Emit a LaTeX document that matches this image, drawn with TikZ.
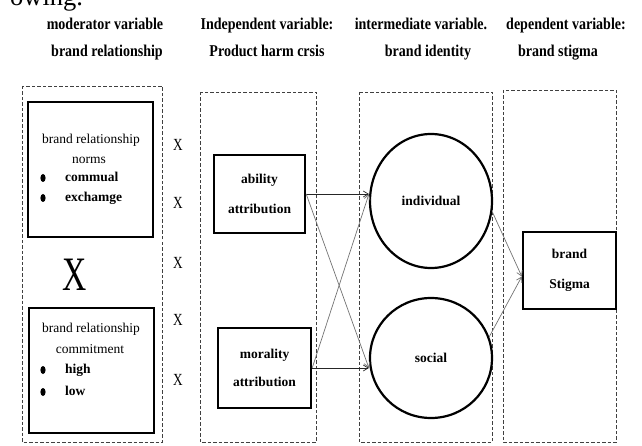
\documentclass[tikz,border=0pt]{standalone}
\usepackage{fontspec}
\setmainfont{Liberation Serif}
\newfontfamily\condserif{Liberation Serif}[FakeStretch=0.85]
\usetikzlibrary{arrows.meta,shapes.geometric}
\begin{document}
\begin{tikzpicture}[x=1pt,y=-1pt,
  hdr/.style={font=\condserif\fontsize{16.5}{18}\selectfont\bfseries, inner sep=0pt, anchor=base},
  grp/.style={draw=black!75, line width=0.8pt, dash pattern=on 3.5pt off 2pt},
  bbox/.style={draw, line width=2.4pt, inner sep=0pt, align=center},
  circ/.style={ellipse, draw, line width=2.2pt, inner sep=0pt, font=\fontsize{13.5}{15}\selectfont\bfseries},
  lbl/.style={font=\fontsize{13.5}{15}\selectfont, inner sep=0pt, text height=9.5pt, text depth=3pt},
  blbl/.style={font=\fontsize{13.5}{15}\selectfont\bfseries, inner sep=0pt, text height=9.5pt, text depth=3pt},
  xm/.style={inner sep=0pt},
  arr/.style={-{Straight Barb[length=5pt,width=6pt]}, line width=0.7pt, draw=black!55},
  harr/.style={arr, draw=black!85}
]
\useasboundingbox (0,0) rectangle (642,446);

% cut-off text at the top
\node[anchor=base west, inner sep=0pt, font=\fontsize{26.5}{28}\selectfont] (cut) at (10,6) {owing.};

% headers
\node[hdr] (h1a) at (105,30) {moderator variable};
\node[hdr] (h1b) at (107,57) {brand relationship};
\node[hdr] (h2a) at (267,30) {Independent variable:};
\node[hdr] (h2b) at (267,57) {Product harm crsis};
\node[hdr] (h3a) at (421,30) {intermediate variable.};
\node[hdr] (h3b) at (428,57) {brand identity};
\node[hdr] (h4a) at (566,30) {dependent variable:};
\node[hdr] (h4b) at (558,57) {brand stigma};

% dashed group frames
\draw[grp] (22,86) rectangle (162,442);
\draw[grp] (200,92) rectangle (316,442);
\draw[grp] (359,92) rectangle (492,442);
\draw[grp] (503,90) rectangle (616,442);

% moderator boxes
\node[bbox, minimum width=125, minimum height=135] (norms) at (90.5,169.5) {};
\node[lbl] (n1) at (91,140) {brand relationship};
\node[lbl] (n2) at (89,160) {norms};
\fill (43,178) ellipse (2.6 and 4);
\fill (43,198) ellipse (2.6 and 4);
\node[blbl, anchor=west] (n3) at (65,178) {commual};
\node[blbl, anchor=west] (n4) at (65,198) {exchamge};

\node[xm] (bigx) at (75,275) {\scalebox{0.7}[1]{\fontsize{48}{48}\selectfont X}};

\node[bbox, minimum width=125, minimum height=125] (commit) at (91.5,370.5) {};
\node[lbl] (c1) at (91,329) {brand relationship};
\node[lbl] (c2) at (90,350) {commitment};
\fill (43,370) ellipse (2.6 and 4);
\fill (43,392) ellipse (2.6 and 4);
\node[blbl, anchor=west] (c3) at (65,370) {high};
\node[blbl, anchor=west] (c4) at (65,392) {low};

% X column
\foreach \yy [count=\i] in {145,203,263,320,380}
  \node[xm] (x\i) at (178,\yy) {\scalebox{0.78}[1]{\fontsize{17}{17}\selectfont X}};

% independent variables
\node[bbox, minimum width=91, minimum height=78, font=\fontsize{13.5}{30}\selectfont\bfseries] (ability) at (259.5,194) {ability\\attribution};
\node[bbox, minimum width=93, minimum height=80, font=\fontsize{13.5}{28}\selectfont\bfseries] (morality) at (264.5,368) {morality\\attribution};

% intermediate variables
\node[circ, minimum width=122, minimum height=134] (individual) at (431,201) {individual};
\node[circ, minimum width=122, minimum height=120] (social) at (431,358) {social};

% dependent variable
\node[bbox, minimum width=93, minimum height=77, font=\fontsize{13.5}{30}\selectfont\bfseries] (stigma) at (569.5,270.5) {brand\\Stigma};

% connectors
\coordinate (tI) at (ability.east -| individual.west);
\coordinate (tS) at (morality.east -| social.west);
\coordinate (tG) at ([yshift=-6pt]stigma.west);
\draw[harr] (ability.east) -- (tI);
\draw[arr] (morality.east) -- (tI);
\draw[arr] (ability.east) -- (tS);
\draw[harr] (morality.east) -- (tS);
\draw[arr] (individual.-10) -- (tG);
\draw[arr] (social.20) -- (tG);
\end{tikzpicture}
\end{document}
